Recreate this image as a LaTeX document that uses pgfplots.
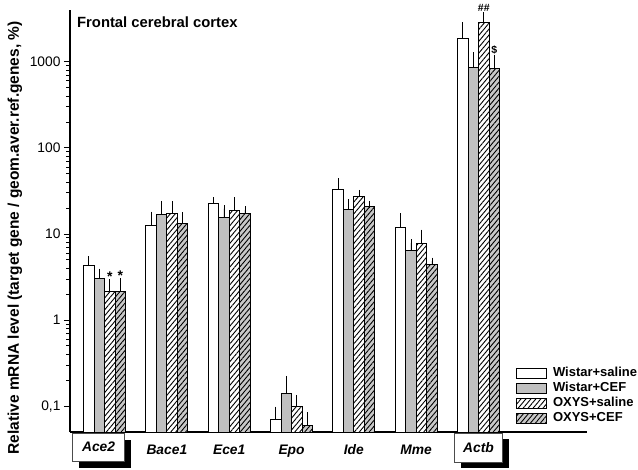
\documentclass[border=0pt]{standalone}
\usepackage{fontspec}
\setmainfont{Liberation Sans}
\usepackage{pgfplots}
\usepackage{pgfplotstable}
\pgfplotsset{compat=1.18}
\usetikzlibrary{patterns.meta}

\definecolor{barg}{RGB}{192,192,192}
\definecolor{barh}{RGB}{200,200,200}

\pgfplotstableread{
x W eW G eG OS eOS OC eOC
0 4.25 0.75 3.0 0.6 2.17 0.53 2.17 0.6
1 12.7 3.8 16.8 5.3 17.2 4.5 13.2 3.0
2 22.3 1.9 15.5 4.2 18.9 5.3 17.4 1.7
3 0.070 0.020 0.139 0.065 0.098 0.025 0.060 0.017
4 32.5 7.8 19.4 3.7 27.2 2.5 20.8 1.3
5 11.8 4.1 6.35 1.55 7.8 2.4 4.44 0.41
6 1866 774 868 307 2864 564 845 259
}\data

\begin{document}
\begin{tikzpicture}
\begin{axis}[
  at={(0,0)}, anchor=south west,
  scale only axis, width=517bp, height=422bp,
  ymode=log, log origin=infty, ymin=0.05, ymax=4000,
  xmin=-0.554, xmax=7.74,
  clip=false,
  axis x line*=bottom, axis y line*=left,
  axis line style={line width=1.3bp, -},
  ybar=0pt, bar width=10.5bp,
  xtick={0,...,6}, xticklabels={,Bace1,Ece1,Epo,Ide,Mme,},
  xtick style={draw=none},
  xticklabel style={font=\bfseries\itshape\fontsize{13.8bp}{16bp}\selectfont, anchor=base, yshift=-17bp},
  ytick={0.1,1,10,100,1000},
  log ticks with fixed point,
  /pgf/number format/use comma,
  /pgf/number format/1000 sep={},
  /pgf/number format/assume math mode=true,
  yticklabel style={font=\fontsize{13.8bp}{16bp}\selectfont},
  tick align=outside, major tick length=6bp, minor tick length=3.5bp,
  ytick style={line width=0.9bp, black},
  ylabel={Relative mRNA level (target gene / geom.aver.ref.genes, \%)},
  ylabel style={at={(axis description cs:-0.1064,0.46)}, anchor=center, font=\bfseries\fontsize{15.5bp}{18bp}\selectfont},
  title={Frontal cerebral cortex},
  title style={at={(axis description cs:0.0135,0.957)}, anchor=west, inner sep=0pt, font=\bfseries\fontsize{14.8bp}{17bp}\selectfont},
  every axis plot/.append style={line width=1bp, draw=black},
  error bars/y dir=plus, error bars/y explicit,
  error bars/error bar style={line width=0.8bp, black},
  error bars/error mark options={line width=0.8bp, black, mark size=3.5bp},
  legend style={draw=none, fill=none, at={(axis description cs:0.8627,0.1576)}, anchor=north west, inner sep=0pt,
    font=\bfseries\fontsize{13bp}{15bp}\selectfont,
    nodes={inner sep=1bp, text height=10bp, text depth=3bp}, row sep=0pt},
  legend cell align=left,
  legend image code/.code={\draw[#1, line width=0.8bp] (0bp,-5bp) rectangle (30bp,5bp);},
]
\addplot[fill=white] table[x=x, y=W, y error plus=eW] \data;
\addplot[fill=barg] table[x=x, y=G, y error plus=eG] \data;
\addplot[fill=white, postaction={pattern={Lines[angle=50, distance=3.8bp, line width=0.9bp]}}] table[x=x, y=OS, y error plus=eOS] \data;
\addplot[fill=barh, postaction={pattern={Lines[angle=50, distance=3.8bp, line width=0.9bp]}}] table[x=x, y=OC, y error plus=eOC] \data;
\legend{\hspace{5bp}Wistar+saline, \hspace{5bp}Wistar+CEF, \hspace{5bp}OXYS+saline, \hspace{5bp}OXYS+CEF}

\node[font=\bfseries\fontsize{14bp}{14bp}\selectfont, anchor=south, xshift=5.25bp, inner sep=1bp] at (axis cs:0,2.7) {*};
\node[font=\bfseries\fontsize{14bp}{14bp}\selectfont, anchor=south, xshift=15.75bp, inner sep=1bp] at (axis cs:0,2.77) {*};
\node[font=\bfseries\fontsize{10.5bp}{10bp}\selectfont, anchor=south, xshift=5.25bp, inner sep=0pt, yshift=4.5bp] at (axis cs:6,3428) {\#\#};
\node[font=\bfseries\fontsize{10.5bp}{10bp}\selectfont, anchor=south, xshift=15.75bp, inner sep=0pt, yshift=4bp] at (axis cs:6,1104) {\$};

\node[fill=black, minimum width=52bp, minimum height=28bp, inner sep=0pt, anchor=north, xshift=0bp, yshift=-7.6bp] at (axis cs:0,0.05) {};
\node[fill=white, draw=black!70, line width=0.6bp, minimum width=52bp, minimum height=28bp, inner sep=0pt, anchor=north, xshift=-6bp, yshift=-0.6bp, font=\bfseries\itshape\fontsize{13.8bp}{16bp}\selectfont] at (axis cs:0,0.05) {Ace2};
\node[fill=black, minimum width=48bp, minimum height=29bp, inner sep=0pt, anchor=north, xshift=6bp, yshift=-6.6bp] at (axis cs:6,0.05) {};
\node[fill=white, draw=black!70, line width=0.6bp, minimum width=48bp, minimum height=29bp, inner sep=0pt, anchor=north, xshift=0bp, yshift=-0.6bp, font=\bfseries\itshape\fontsize{13.8bp}{16bp}\selectfont] at (axis cs:6,0.05) {Actb};
\end{axis}
\pgfresetboundingbox
\path (-70bp,-38bp) rectangle (568bp,432bp);
\end{tikzpicture}
\end{document}
